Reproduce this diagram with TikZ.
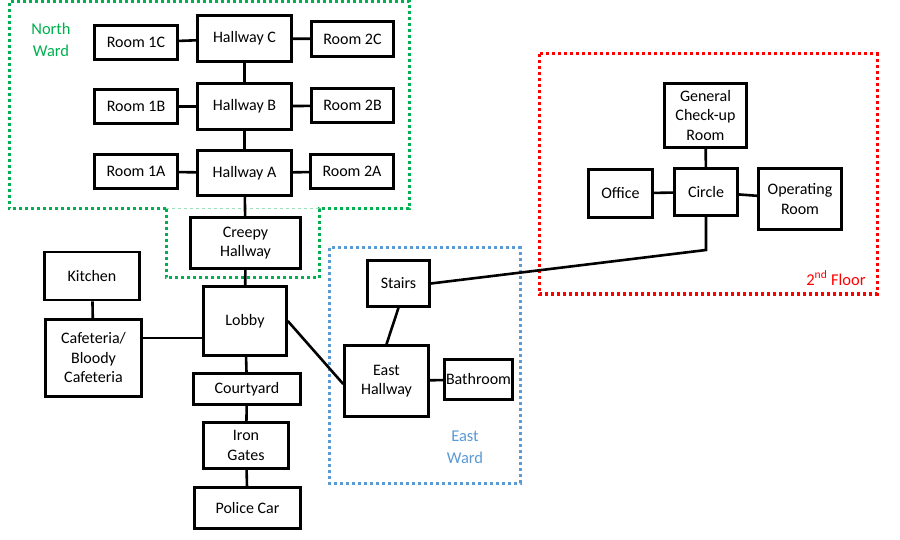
\documentclass[tikz,border=0pt]{standalone}
\usepackage{fontspec}
\setmainfont{Carlito}

\definecolor{wardgreen}{RGB}{0,176,80}
\definecolor{wardblue}{RGB}{91,155,213}
\definecolor{floorred}{RGB}{255,0,0}

\tikzset{
  room/.style={draw, line width=2.6pt, align=center, inner sep=0pt,
    font=\fontsize{16}{19.5}\selectfont},
  link/.style={line width=2.6pt},
  zone/.style={line width=3pt, dash pattern=on 3pt off 3pt},
  zonelabel/.style={align=center, font=\fontsize{16.5}{22}\selectfont}
}

\begin{document}
\begin{tikzpicture}[x=1pt, y=-1pt]
  \fill[white] (0,0) rectangle (900,540);
  \useasboundingbox (0,0) rectangle (900,540);

  % zones
  \draw[zone, wardgreen] (166,209) -- (9,209) -- (9,1.5) -- (409,1.5) -- (409,209) -- (319,209)
    -- (319,278) -- (166,278) -- cycle;
  \draw[wardgreen!40, line width=1pt, dashed] (166,209) -- (319,209);
  \draw[zone, wardblue] (329,248) rectangle (520,483);
  \draw[zone, floorred] (539,54) rectangle (877,294);
  \node[zonelabel, wardgreen] (northlbl) at (51,40) {North\\Ward};
  \node[zonelabel, wardblue] (eastlbl) at (465,447) {East\\Ward};
  \node[zonelabel, floorred] (floorlbl) at (836,278) {2\textsuperscript{nd} Floor};

  % north ward
  \node[room, minimum width=83pt, minimum height=34pt] (r1c) at (136,42.5) {Room 1C};
  \node[room, minimum width=94pt, minimum height=46pt] (hc) at (244.5,38.5) {Hallway C};
  \node[room, minimum width=82pt, minimum height=35pt] (r2c) at (352.5,39) {Room 2C};
  \node[room, minimum width=83pt, minimum height=34pt] (r1b) at (136,106.5) {Room 1B};
  \node[room, minimum width=94pt, minimum height=46pt] (hb) at (244.5,106.5) {Hallway B};
  \node[room, minimum width=82pt, minimum height=34pt] (r2b) at (352.5,105.5) {Room 2B};
  \node[room, minimum width=83pt, minimum height=34pt] (r1a) at (136,171.5) {Room 1A};
  \node[room, minimum width=94pt, minimum height=45pt] (ha) at (244.5,173) {Hallway A};
  \node[room, minimum width=83pt, minimum height=34pt] (r2a) at (352,171.5) {Room 2A};
  \node[room, minimum width=110pt, minimum height=51pt] (creepy) at (245.5,243) {Creepy\\Hallway};

  % ground floor
  \node[room, minimum width=95pt, minimum height=48pt] (kitchen) at (92,276) {Kitchen};
  \node[room, minimum width=96pt, minimum height=77pt] (cafe) at (93.5,358) {Cafeteria/\\Bloody\\Cafeteria};
  \node[room, minimum width=83pt, minimum height=69pt] (lobby) at (245,321) {Lobby};
  \node[room, minimum width=107pt, minimum height=31pt] (court) at (247,389) {Courtyard};
  \node[room, minimum width=85pt, minimum height=46pt] (gates) at (246,445.5) {Iron\\Gates};
  \node[room, minimum width=106pt, minimum height=41pt] (police) at (247.5,508) {Police Car};

  % east ward
  \node[room, minimum width=62pt, minimum height=46pt] (stairs) at (398.5,283.5) {Stairs};
  \node[room, minimum width=84pt, minimum height=71pt] (ehall) at (386.5,381) {East\\Hallway};
  \node[room, minimum width=68pt, minimum height=40pt] (bath) at (478.5,379.5) {Bathroom};

  % 2nd floor
  \node[room, minimum width=82pt, minimum height=64pt] (gcr) at (705.5,115.5) {General\\Check-up\\Room};
  \node[room, minimum width=64pt, minimum height=48pt] (office) at (620.5,193.5) {Office};
  \node[room, minimum width=63pt, minimum height=47pt] (circle) at (706,192) {Circle};
  \node[room, minimum width=83pt, minimum height=61pt] (oproom) at (800,199) {Operating\\Room};
  \coordinate (bend) at (706,250);

  % links
  \draw[link] (r1c) -- (hc);
  \draw[link] (hc) -- (r2c);
  \draw[link] (hc) -- (hb);
  \draw[link] (r1b) -- (hb);
  \draw[link] (hb) -- (r2b);
  \draw[link] (hb) -- (ha);
  \draw[link] (r1a) -- (ha);
  \draw[link] (ha) -- (r2a);
  \draw[link] (ha) -- (creepy);
  \draw[link] (creepy) -- (lobby);
  \draw[link] (kitchen) -- (cafe);
  \draw[link] ([yshift=20pt]cafe.east) -- ([yshift=20pt]cafe.east -| lobby.west);
  \draw[link] (lobby) -- (court);
  \draw[link] (court) -- (gates);
  \draw[link] (gates) -- (police);
  \draw[link] (lobby.east) -- ([yshift=-3pt]ehall.west);
  \draw[link] (stairs.south) -- (ehall.north);
  \draw[link] (ehall) -- (bath);
  \draw[link] (circle.south) -- (bend) -- (stairs.east);
  \draw[link] (gcr) -- (circle);
  \draw[link] (office) -- (circle);
  \draw[link] (circle) -- (oproom);
\end{tikzpicture}
\end{document}
